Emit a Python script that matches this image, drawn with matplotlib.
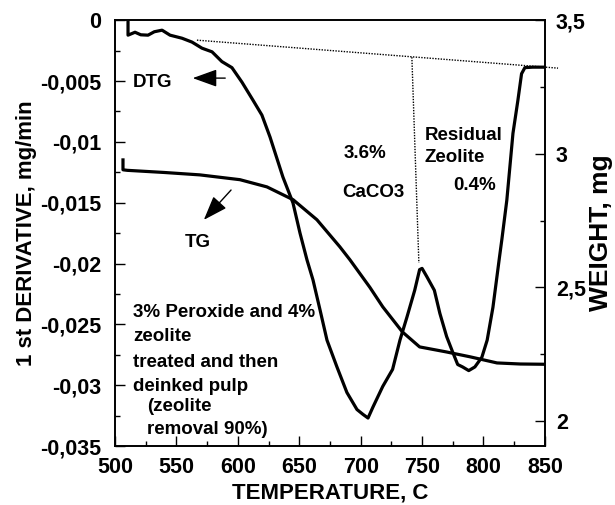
import matplotlib
matplotlib.use("Agg")
import matplotlib.pyplot as plt
from matplotlib.ticker import MultipleLocator

plt.rcParams["font.family"] = ["Liberation Sans", "DejaVu Sans"]
plt.rcParams["font.weight"] = "bold"

# DTG curve (1st derivative, mg/min)
dtg_temp = [510.6, 510.6, 516.3, 521.0, 526.9, 532.0, 538.3, 544.8, 554.5, 562.7,
            570.8, 579.0, 587.0, 595.2, 603.4, 612.3, 619.6, 626.2, 636.7, 644.9,
            650.6, 656.3, 661.2, 666.9, 672.6, 680.7, 688.8, 697.0, 701.9, 706.0,
            710.0, 718.0, 726.0, 732.0, 737.7, 744.0, 748.0, 750.0, 754.0, 760.0,
            764.5, 770.0, 775.0, 779.0, 783.0, 788.0, 793.0, 798.7, 803.0, 807.7,
            813.0, 815.0, 819.0, 824.0, 828.0, 831.0, 833.7, 840.0, 850.0]
dtg_val = [-0.00016, -0.00123, -0.00099, -0.00120, -0.00123, -0.00095, -0.00082, -0.00123,
           -0.00148, -0.00180, -0.00230, -0.00260, -0.00340, -0.00390, -0.00510, -0.00657,
           -0.00780, -0.00960, -0.01289, -0.01502, -0.01749, -0.01970, -0.02135, -0.02380,
           -0.02630, -0.02850, -0.03060, -0.03200, -0.03240, -0.03270, -0.03180, -0.03010,
           -0.02870, -0.02630, -0.02440, -0.02220, -0.02050, -0.02040, -0.02110, -0.02220,
           -0.02410, -0.02600, -0.02730, -0.02830, -0.02850, -0.02880, -0.02850, -0.02770,
           -0.02630, -0.02360, -0.01950, -0.01800, -0.01480, -0.00930, -0.00660, -0.00440,
           -0.00390, -0.00386, -0.00386]

# TG curve (weight, mg)
tg_temp = [506.5, 506.5, 510.0, 540.0, 569.0, 601.7, 623.7, 645.0, 664.4, 683.0,
           691.3, 707.5, 718.0, 734.0, 748.0, 770.0, 789.0, 811.0, 830.0, 850.0]
tg_val = [2.977, 2.940, 2.938, 2.930, 2.921, 2.903, 2.876, 2.828, 2.753, 2.652,
          2.603, 2.500, 2.427, 2.333, 2.277, 2.258, 2.240, 2.217, 2.213, 2.212]

# construction lines (dotted)
base_temp = [566.7, 860.7]
base_val = [-0.00164, -0.00394]
split_temp = [741.7, 747.4]
split_val = [-0.00304, -0.01995]

left_ticks = [0, -0.005, -0.01, -0.015, -0.02, -0.025, -0.03, -0.035]
left_labels = ["0", "-0,005", "-0,01", "-0,015", "-0,02", "-0,025", "-0,03", "-0,035"]
right_ticks = [2.0, 2.5, 3.0, 3.5]
right_labels = ["2", "2,5", "3", "3,5"]
x_ticks = [500, 550, 600, 650, 700, 750, 800, 850]

fig = plt.figure(figsize=(6.15, 5.05), dpi=100)
ax = fig.add_axes([0.187, 0.1168, 0.699, 0.8432])
ax2 = ax.twinx()

ax.plot(dtg_temp, dtg_val, color="k", lw=2.3, solid_joinstyle="round")
ax2.plot(tg_temp, tg_val, color="k", lw=2.3, solid_joinstyle="round")
ax.plot(base_temp, base_val, color="k", lw=1.0, ls=(0, (1, 1)), clip_on=False)
ax.plot(split_temp, split_val, color="k", lw=1.0, ls=(0, (1, 1)))

ax.set_xlim(500, 850)
ax.set_ylim(-0.035, 0)
ax2.set_ylim(1.906, 3.5)

ax.set_xticks(x_ticks)
ax.set_xticklabels([str(t) for t in x_ticks])
ax.set_yticks(left_ticks)
ax.set_yticklabels(left_labels)
ax2.set_yticks(right_ticks)
ax2.set_yticklabels(right_labels)
ax.xaxis.set_minor_locator(MultipleLocator(25))
ax.yaxis.set_minor_locator(MultipleLocator(0.0025))
ax2.yaxis.set_minor_locator(MultipleLocator(0.25))

ax.tick_params(axis="both", which="major", direction="in", length=7, width=1,
               labelsize=15.5)
ax.tick_params(axis="both", which="minor", direction="in", length=3.5, width=1)
ax.tick_params(axis="y", pad=10)
ax.tick_params(axis="x", pad=8)
ax2.tick_params(axis="y", which="major", direction="in", length=7, width=1,
                labelsize=15.5, pad=8)
ax2.tick_params(axis="y", which="minor", direction="in", length=3.5, width=1)
for a in (ax, ax2):
    for s in a.spines.values():
        s.set_linewidth(1.2)

ax.set_xlabel("TEMPERATURE, C", fontsize=16, fontweight="bold", labelpad=3)
ax.set_ylabel("1 st DERIVATIVE, mg/min", fontsize=16, fontweight="bold", labelpad=2)
ax2.set_ylabel("WEIGHT, mg", fontsize=19, fontweight="bold", labelpad=2)

fs = 13.5
ax.text(514.6, -0.00509, "DTG", fontsize=fs, fontweight="bold", ha="left", va="center")
ax.annotate("", xy=(561, -0.00476), xytext=(592, -0.00476),
            arrowprops=dict(arrowstyle="-|>,head_length=1.0,head_width=0.36",
                            mutation_scale=15, lw=1, color="k"))
ax.text(567, -0.0183, "TG", fontsize=fs, fontweight="bold", ha="center", va="center")
ax.annotate("", xy=(570.8, -0.01658), xytext=(596, -0.01379),
            arrowprops=dict(arrowstyle="-|>,head_length=1.0,head_width=0.36",
                            mutation_scale=15, lw=1, color="k"))
ax.text(703.9, -0.01092, "3.6%", fontsize=fs, fontweight="bold", ha="center", va="center")
ax.text(710.4, -0.0142, "CaCO3", fontsize=fs, fontweight="bold", ha="center", va="center")
ax.text(752.3, -0.00944, "Residual", fontsize=fs, fontweight="bold", ha="left", va="center")
ax.text(752.3, -0.01125, "Zeolite", fontsize=fs, fontweight="bold", ha="left", va="center")
ax.text(775.0, -0.01355, "0.4%", fontsize=fs, fontweight="bold", ha="left", va="center")

ax.text(514.6, -0.02406, "3% Peroxide and 4%", fontsize=fs, fontweight="bold", va="center")
ax.text(514.6, -0.02603, "zeolite", fontsize=fs, fontweight="bold", va="center")
ax.text(514.6, -0.02816, "treated and then", fontsize=fs, fontweight="bold", va="center")
ax.text(514.6, -0.03013, "deinked pulp", fontsize=fs, fontweight="bold", va="center")
ax.text(526.0, -0.03177, "(zeolite", fontsize=fs, fontweight="bold", va="center")
ax.text(526.0, -0.03366, "removal 90%)", fontsize=fs, fontweight="bold", va="center")

fig.savefig("out.png", dpi=100)
